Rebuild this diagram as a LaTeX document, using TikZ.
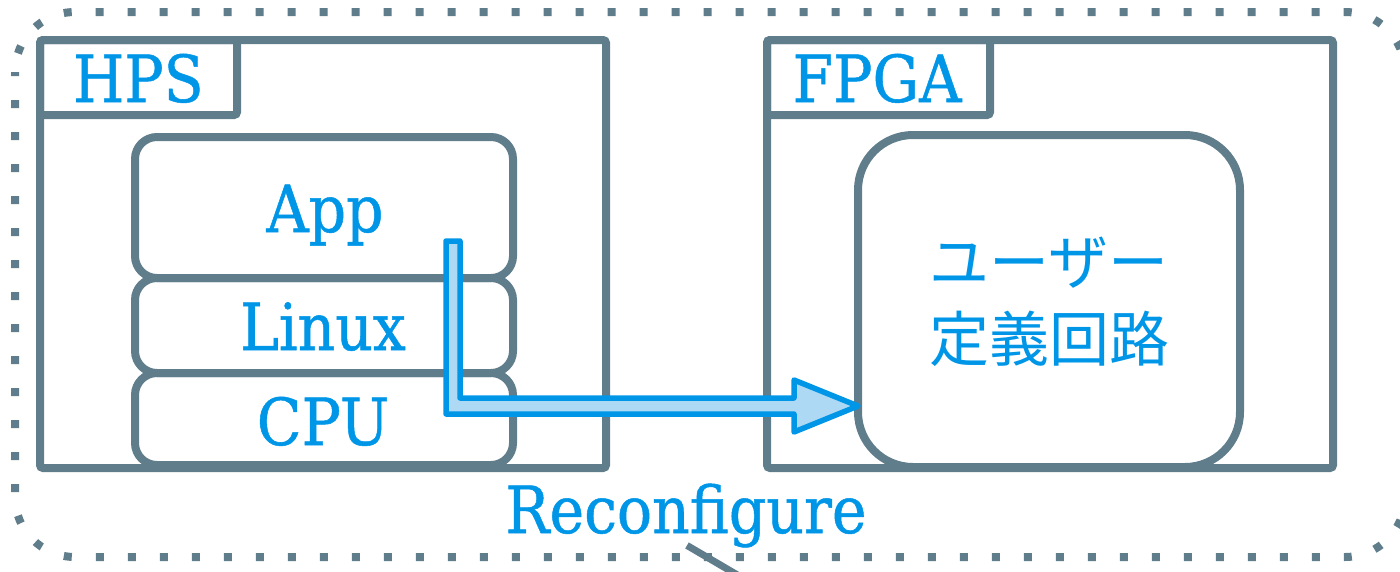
\documentclass[tikz,border=0pt]{standalone}
\usepackage{fontspec}
\setmainfont{DejaVu Serif}[FakeStretch=0.9,FakeBold=0.8]
\newfontfamily\jp{Noto Sans CJK JP}
\usetikzlibrary{calc}
\definecolor{bgray}{HTML}{607D8B}
\definecolor{tblue}{HTML}{0096E8}
\definecolor{afill}{HTML}{AED9F5}
\begin{document}
\begin{tikzpicture}[x=1pt,y=-1pt,
  box/.style={draw=bgray, line width=8pt, rounded corners=3pt, minimum width=#1, anchor=north west, inner sep=0pt, outer sep=0pt},
  layer/.style={draw=bgray, line width=8pt, rounded corners=22pt, anchor=north west, inner sep=0pt, outer sep=0pt, minimum width=378pt},
  lbl/.style={text=tblue, font=\fontsize{65}{78}\selectfont, inner sep=0pt, outer sep=0pt, anchor=base},
  jptext/.style={text=tblue, font=\jp\fontsize{60}{77}\selectfont, inner sep=0pt, align=center},
  fatarrow/.style={draw=tblue, fill=afill, line width=5.5pt, line join=round},
  outline/.style={draw=bgray, line width=8pt, dash pattern=on 8pt off 24pt, dash phase=4pt, rounded corners=60pt},
  leader/.style={draw=bgray, line width=7pt}]
\useasboundingbox (0,0) rectangle (1400,571);
\clip (0,0) rectangle (1400,571);
% outer dotted frame
\draw[outline] (15,12) rectangle (1405,557);
% HPS
\node[box=566pt, minimum height=428pt] (hps) at (40,40) {};
\node[box=197pt, minimum height=75pt] (hpslbl) at (40,40) {};
\node[lbl] (hpstxt) at (138.5,102) {HPS};
% stack
\node[layer, minimum height=141pt] (app) at (135,137) {};
\node[layer, minimum height=95pt] (linux) at (135,278) {};
\node[layer, minimum height=92pt] (cpu) at (135,373) {};
\node[lbl] (apptxt) at (325,232) {App};
\node[lbl] (linuxtxt) at (323,350) {Linux};
\node[lbl] (cputxt) at (323,445) {CPU};
% FPGA
\node[box=566pt, minimum height=428pt] (fpga) at (767,40) {};
\node[box=223pt, minimum height=75pt] (fpgalbl) at (767,40) {};
\node[lbl] (fpgatxt) at (877,102) {FPGA};
\node[draw=bgray, line width=8pt, rounded corners=55pt, anchor=north west, inner sep=0pt, outer sep=0pt,
      minimum width=382pt, minimum height=332pt] (user) at (858,135) {};
\node[jptext] (usertxt) at (1049,302) {ユーザー\\定義回路};
% fat arrow
\coordinate (start) at (453,241);
\coordinate (tip) at (user.west |- 0,406);
\draw[fatarrow] ($(start)+(-7,0)$) -- ($(start)+(7,0)$) -- ($(start)+(7,157)$)
  -- ($(tip)+(-64,-8)$) -- ($(tip)+(-64,-26)$) -- (tip) -- ($(tip)+(-64,26)$)
  -- ($(tip)+(-64,8)$) -- ($(start)+(-7,173)$) -- cycle;
% Reconfigure
\node[lbl] (reconf) at (686,533) {Reconfigure};
\coordinate (away) at (775,597);
\draw[leader] ($(reconf.south)+(1,-2)$) -- (away);
\end{tikzpicture}
\end{document}
